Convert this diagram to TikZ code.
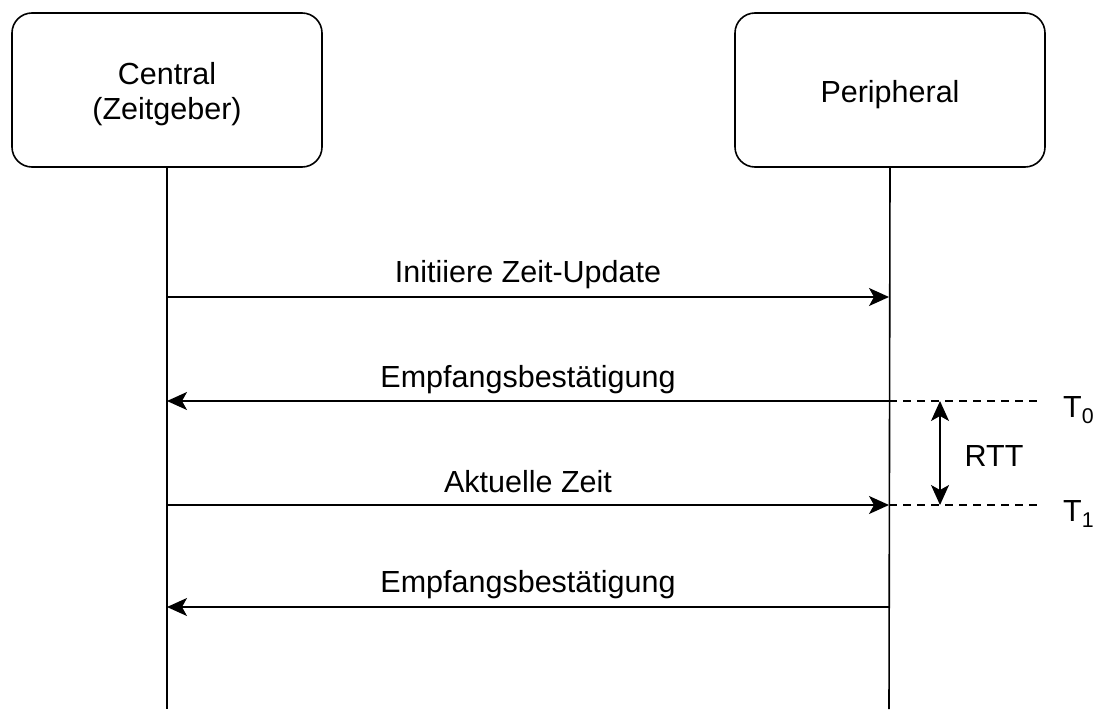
\documentclass[tikz,border=0pt]{standalone}
\usepackage{fontspec}
\setmainfont{Liberation Sans}
\usetikzlibrary{arrows.meta}
\begin{document}
\begin{tikzpicture}[x=1pt,y=-1pt,
  every node/.style={font=\fontsize{30.5}{35}\selectfont},
  lane/.style={draw=black,line width=1.6pt,rounded corners=20pt,
    minimum width=310pt,minimum height=154pt,align=center,inner sep=0pt},
  lifeline/.style={draw=black,line width=1.6pt},
  msg/.style={draw=black,line width=1.6pt,
    -{Stealth[length=20pt,width=18pt,inset=5pt]}},
  marker/.style={draw=black,line width=1.2pt,dash pattern=on 8pt off 6pt},
  span/.style={draw=black,line width=1.6pt,
    {Stealth[length=20pt,width=18pt,inset=5pt]}-{Stealth[length=20pt,width=18pt,inset=5pt]}},
  lbl/.style={inner sep=0pt}]
\useasboundingbox (0,0) rectangle (1102,709);

% participants (text nudged down a little inside the box)
\node[lane] (cen) at (167,90)
  {\raisebox{-5pt}[\height][\depth]{\begin{tabular}{@{}c@{}}Central\\(Zeitgeber)\end{tabular}}};
\node[lane] (per) at (890,90) {\raisebox{-5pt}[\height][\depth]{Peripheral}};

% lifeline ends
\coordinate (cenEnd) at (167,709);
\coordinate (perEnd) at (889,709);
\draw[lifeline] (cen.south) -- (cenEnd);
\draw[lifeline] (per.south) -- (perEnd);

% message anchors on the lifelines
\coordinate (c1) at (167,297); \coordinate (p1) at (889,297);
\coordinate (c2) at (167,401); \coordinate (p2) at (889,401);
\coordinate (c3) at (167,505); \coordinate (p3) at (889,505);
\coordinate (c4) at (167,607); \coordinate (p4) at (889,607);

\draw[msg] (c1) -- (p1);
\draw[msg] (p2) -- (c2);
\draw[msg] (c3) -- (p3);
\draw[msg] (p4) -- (c4);

\node[lbl] (m1) at (528,275) {Initiiere Zeit-Update};
\node[lbl] (m2) at (528,380) {Empfangsbestätigung};
\node[lbl] (m3) at (528,482) {Aktuelle Zeit};
\node[lbl] (m4) at (528,585) {Empfangsbestätigung};

% timing markers
\coordinate (t0end) at (1040,401);
\coordinate (t1end) at (1040,505);
\draw[marker] (p2) -- (t0end);
\draw[marker] (p3) -- (t1end);
\coordinate (r0) at (940,401);
\coordinate (r1) at (940,505);
\draw[span] (r0) -- (r1);

\node[lbl] (rtt) at (994,456) {RTT};
\node[lbl,anchor=west] (T0) at (1063,410) {T\textsubscript{0}};
\node[lbl,anchor=west] (T1) at (1063,514) {T\textsubscript{1}};
\end{tikzpicture}
\end{document}
